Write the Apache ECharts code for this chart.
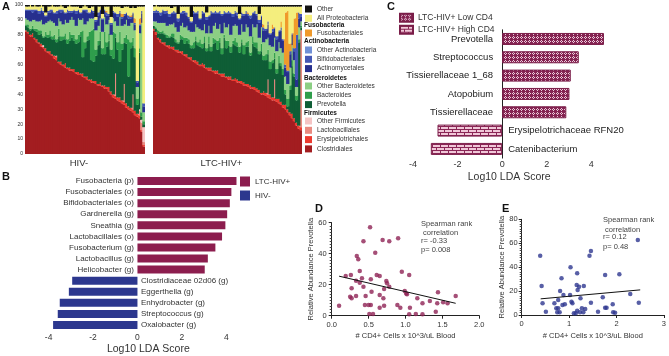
<!DOCTYPE html>
<html>
<head>
<meta charset="utf-8">
<script src="https://cdn.jsdelivr.net/npm/echarts@6/dist/echarts.min.js"></script>
<style>
  html, body { margin: 0; padding: 0; background: #fff; }
  #main { width: 669px; height: 356px; }
</style>
</head>
<body>
<div id="main"></div>
<script>
// ---- panel A : relative abundance per sample (stack order bottom -> top) ----
var taxa = ['Clostridiales', 'Erysipelotrichales', 'Lactobacillales', 'Other Firmicutes',
  'Prevotella', 'Bacteroides', 'Other Bacteroidetes', 'Actinomycetales', 'Bifidobacteriales',
  'Other Actinobacteria', 'Fusobacteriales', 'All Proteobacteria', 'Other'];
var taxaColors = ['#a31d20', '#ec3b30', '#e98a80', '#f5c4c4', '#0f5e36', '#2f9e4c', '#8ccf84',
  '#27308e', '#4558b5', '#7090d6', '#f09a2c', '#f4ee7e', '#111111'];

// HIV- samples
var hivClostridiales = [82,81,79,79,77,75,74,72,71,69, 68,67,66,64,63,61,60,59,58,57, 56,56,55,54,53,53,52,51,50,49, 48,48,47,46,46,45,44,44,42,40, 38,37,36,35,34,33,31,30,29,28, 26,25,24,15,5];
var hivErysipelotrichales = [1,1,1,2,1,2,1,2,1,2, 1,2,1,2,2,1,2,1,3,1, 2,1,2,1,2,1,2,1,2,1, 2,1,2,1,2,1,2,1,3,2, 2,2,2,3,2,2,3,2,2,2, 3,2,2,1,1];
var hivLactobacillales = [0,0,0,0,0,0,0,0,0,0, 0,0,0,0,1,0,0,0,0,0, 0,0,0,0,0,0,0,0,0,0, 0,0,0,0,0,0,0,0,0,0, 0,15,0,0,0,12,0,0,0,10, 0,0,3,5,2];
var hivOtherFirmicutes = [0,0,0,0,0,0,0,0,1,0, 0,0,0,0,0,0,0,0,0,0, 0,0,0,0,0,0,0,0,0,0, 0,0,0,0,0,0,0,0,0,0, 0,0,0,0,0,0,0,0,0,0, 0,0,1,2,10];
var hivPrevotella = [3,3,3,3,5,5,5,7,5,8, 9,10,10,11,9,17,14,17,16,16, 18,21,19,19,20,25,11,19,24,27, 13,13,17,26,28,21,21,27,31,24, 24,24,32,24,34,28,40,20,40,33, 36,6,38,2,2];
var hivBacteroides = [1,2,1,2,1,2,3,2,1,3, 2,4,2,3,2,5,3,2,4,3, 6,2,4,3,5,3,18,4,3,5, 20,22,4,3,6,4,15,3,5,4, 18,3,5,20,4,3,6,25,4,5, 6,4,3,3,2];
var hivOtherBacteroidetes = [4,3,5,4,6,5,6,7,8,6, 9,7,10,8,9,7,10,8,9,11, 8,12,10,9,11,8,8,12,10,9, 8,7,13,10,9,11,10,12,9,10, 9,8,11,10,12,9,10,9,13,10, 12,8,10,60,6];
var hivActinomycetales = [5,6,7,5,6,7,5,6,8,4, 6,5,7,6,8,5,6,9,4,7, 5,3,6,8,5,4,5,9,6,3, 5,4,6,7,5,8,4,6,3,7, 4,5,6,3,5,6,4,5,3,6, 4,3,5,6,4];
var hivBifidobacteriales = [1,1,1,2,1,1,2,1,1,1, 1,2,1,1,2,1,2,1,1,2, 1,1,1,2,1,1,1,1,2,1, 1,1,1,2,1,1,1,2,1,1, 1,1,2,1,1,1,1,2,1,1, 1,1,1,2,2];
var hivOtherActinobacteria = [0,0,0,0,0,0,0,1,0,0, 0,0,0,0,0,0,0,0,0,0, 0,0,0,0,0,0,0,0,0,0, 0,0,0,0,0,0,0,0,0,0, 0,0,0,0,0,0,0,0,0,0, 0,0,0,0,0];
var hivFusobacteriales = [0,0,0,0,0,0,0,0,0,0, 0,0,0,0,0,0,0,0,0,0, 0,0,0,0,0,0,0,0,0,0, 0,0,0,0,0,0,0,1,0,0, 0,0,0,0,2,0,0,0,1,0, 3,0,4,0,0];
var hivProteobacteria = [2,2,3,2,3,2,3,2,3,2, 3,2,3,4,3,2,3,2,3,2, 4,3,2,3,2,3,2,3,2,3, 2,3,2,4,2,3,2,3,5,4, 3,4,5,3,4,5,4,6,5,4, 7,50,8,3,65];
var hivOther = [1,1,0,1,0,1,1,0,1,5, 1,1,0,1,1,1,0,1,2,1, 0,1,1,1,1,2,1,0,1,2, 1,1,8,1,1,6,1,1,1,8, 1,1,1,1,2,1,1,1,2,1, 2,1,1,1,1];

// LTC-HIV+ samples
var ltcClostridiales = [83,80,77,75,74,73,72,71,71,70, 69,68,68,67,66,65,64,63,62,61, 60,59,59,58,57,56,56,55,54,54, 53,52,52,51,50,50,49,49,48,48, 47,46,46,45,44,44,43,42,41,40, 40,39,38,37,36,36,35,34,33,31, 30,28,26,24,22,19,17,16];
var ltcErysipelotrichales = [1,2,1,2,1,2,1,2,1,2, 1,2,1,2,1,2,1,2,1,2, 2,1,2,2,1,2,2,1,2,2, 1,2,2,1,2,2,1,2,2,1, 2,2,1,2,2,1,2,2,2,1, 2,2,2,3,2,2,2,3,2,2, 3,2,2,3,2,2,2,2];
var ltcLactobacillales = [0,0,0,0,0,0,0,0,0,0, 0,0,0,0,0,0,0,0,0,0, 0,0,0,0,0,0,0,0,0,0, 0,0,0,0,0,0,0,0,0,0, 0,0,0,0,0,0,0,0,0,0, 0,0,10,0,0,12,0,0,0,0, 0,0,0,0,0,0,0,65];
var ltcOtherFirmicutes = [0,0,0,0,0,0,0,0,0,0, 0,0,0,0,0,0,0,0,0,0, 0,0,0,0,0,0,0,0,0,0, 0,0,0,0,0,0,0,0,0,0, 0,0,0,0,0,0,0,0,0,0, 0,0,0,0,0,0,0,0,0,0, 0,0,0,0,0,0,0,0];
var ltcPrevotella = [2,2,3,4,6,5,5,5,7,6, 5,4,8,8,7,9,9,6,8,13, 11,12,10,15,11,16,11,18,19,14, 21,13,24,19,21,16,24,22,22,19, 26,19,25,25,20,29,27,27,24,28, 21,22,17,17,23,14,17,24,24,20, 7,2,15,32,28,15,56,2];
var ltcBacteroides = [0,1,2,1,2,1,2,1,2,3, 2,1,3,2,4,2,3,2,4,3, 2,5,3,4,2,5,3,4,2,6, 3,4,2,5,3,4,2,5,3,4, 2,6,3,4,2,5,3,4,2,5, 3,4,3,5,2,4,3,5,2,4, 3,5,3,4,2,3,2,1];
var ltcOtherBacteroidetes = [3,4,5,6,5,7,6,8,6,7, 8,7,6,9,7,8,6,9,7,8, 10,7,9,8,10,7,9,8,11,8, 9,10,8,9,11,8,10,9,11,8, 10,9,12,9,11,8,10,12,9,11, 9,10,8,11,9,10,12,9,10,11, 9,10,12,10,9,6,8,3];
var ltcActinomycetales = [6,6,7,5,8,6,9,5,7,6, 9,7,8,6,10,7,8,6,12,7, 9,6,11,7,9,6,13,8,6,10, 7,12,6,9,7,14,6,8,7,10, 6,11,7,8,12,7,9,6,10,7, 8,6,9,7,10,6,8,7,12,8, 6,8,9,7,6,5,6,3];
var ltcBifidobacteriales = [1,2,1,2,1,2,1,2,1,2, 1,2,1,2,1,2,1,1,2,1, 2,1,2,1,2,1,2,1,2,1, 2,1,2,1,2,1,2,1,2,1, 2,1,2,1,2,1,2,1,2,1, 2,1,2,1,2,1,2,1,2,1, 2,1,2,1,2,30,4,2];
var ltcOtherActinobacteria = [0,0,0,0,0,0,0,0,0,0, 0,0,0,0,0,0,0,0,0,0, 0,0,0,0,0,0,0,0,0,0, 0,0,0,0,0,0,0,0,0,0, 0,0,0,0,0,0,0,0,0,0, 0,0,0,0,0,0,0,0,0,0, 0,0,0,0,0,0,0,0];
var ltcFusobacteriales = [0,0,0,0,0,0,1,0,0,0, 0,0,0,0,0,0,0,0,0,0, 0,0,0,0,0,0,0,0,0,0, 0,0,0,0,0,0,0,0,0,0, 0,0,0,1,0,0,0,0,0,0, 2,0,0,0,3,0,0,0,4,0, 35,40,5,0,20,15,0,0];
var ltcProteobacteria = [3,3,3,4,2,3,2,5,3,3, 4,3,4,3,3,4,7,3,3,4, 3,8,3,4,3,6,3,4,3,4, 3,5,3,4,3,4,5,3,4,3, 4,5,3,4,6,4,3,5,4,6, 12,15,10,18,12,14,20,16,10,22, 4,3,25,18,8,4,4,5];
var ltcOther = [1,0,1,1,1,1,1,1,2,1, 1,6,1,1,1,1,1,8,1,1, 1,1,1,1,5,1,1,1,1,1, 1,1,1,1,1,1,1,1,1,6, 1,1,1,1,1,1,1,1,6,1, 1,1,1,1,1,1,1,1,1,1, 1,1,1,1,1,1,1,1];

var aTicks = [0, 100, 10];

// ---- panel B : LDA scores ----
var bCategories = ['Fusobacteria (p)', 'Fusobacteriales (o)', 'Bifidobacteriales (o)', 'Gardnerella (g)',
  'Sneathia (g)', 'Lactobacillales (o)', 'Fusobacterium (g)', 'Lactobacillus (g)', 'Helicobacter (g)',
  'Clostridiaceae 02d06 (g)', 'Eggerthella (g)', 'Enhydrobacter (g)', 'Streptococcus (g)', 'Oxalobacter (g)'];
var bLtc = [4.46, 4.23, 4.16, 4.04, 3.96, 3.81, 3.51, 3.17, 3.03, '-', '-', '-', '-', '-'];
var bHiv = ['-', '-', '-', '-', '-', '-', '-', '-', '-', -2.94, -3.09, -3.5, -3.59, -3.8];
var ldaTicks = [-4, -2, 0, 2, 4];

// ---- panel C : LDA scores by CD4 ----
var cCategories = ['Prevotella', 'Streptococcus', 'Tissierellaceae 1_68', 'Atopobium', 'Tissierellaceae',
  'Erysipelotrichaceae RFN20', 'Catenibacterium'];
var cLow = [4.57, 3.44, 3.08, 3.02, 2.88, '-', '-'];
var cHigh = ['-', '-', '-', '-', '-', -2.9, -3.2];

// ---- panel D : LTC-HIV+ CD4 vs Prevotella ----
var dX = [0.52,0.43,0.69,0.78,0.90,0.34,0.36,0.59,0.38,0.19, 0.26,0.41,0.33,0.38,0.53,0.61,0.65,0.74,0.75,0.78,
  0.71,0.65,0.70,0.95,1.05,0.99,1.01,1.02,1.16,1.23, 1.33,1.43,1.44,1.51,1.57,1.68,1.41,1.23,1.14,1.05,
  1.06,0.89,0.93,0.10,0.25,0.27,0.33,0.27,0.46,0.45, 0.50,0.53,0.51,0.56,0.65,0.71,0.54,0.43];
var dY = [57,48,48.8,48,50,38.5,36.4,40.6,28.8,25.6, 26.3,24.1,22.6,21.3,23.5,26.3,25.6,22.4,20.9,18.7,
  17.2,13.4,11.2,28.4,26.3,15.9,14.4,13.8,11.2,8, 9.5,8,15.1,8.6,8,12.7,2.6,0.9,1.1,0.9,
  5.2,6.9,5.2,6.5,12.3,11.2,12.7,17.7,12.7,6.9, 6.9,6.9,1.1,1.1,5.2,6.5,15.5,18.7];
var dFitX = [0.1, 1.68];
var dFitY = [25.5, 8.0];

// ---- panel E : HIV- CD4 vs Prevotella ----
var eX = [0.39,2.45,1.46,1.43,1.03,0.42,0.84,1.17,1.16,1.21, 1.31,1.18,1.76,2.06,0.81,0.88,1.02,2.29,2.47,0.44,
  0.69,0.77,0.86,1.05,1.07,1.24,1.46,1.71,1.76,1.79, 1.92,0.51,0.73,0.75,0.80,1.10,1.17,1.23,1.30,1.34,
  1.61,1.93,1.97,0.91,0.77,1.14,1.27];
var eY = [49.6,62.7,53.5,49.6,39.9,24.2,30.7,34.9,25.1,23.7, 24.2,20.9,33.4,34,20.1,16.7,16.7,17.6,10.3,9.8,
  9.8,12.5,8.4,11.1,9.8,14,10.3,14.8,6.1,6.1, 8.9,2.8,5.6,2.2,2.2,1.4,3.6,2.2,2.2,5,
  2.8,2.2,1.9,8.9,5.6,1.4,5.6];
var eFitX = [0.4, 2.5];
var eFitY = [13.5, 21.0];

var FONT = '"Liberation Sans", Arial, sans-serif';
var MAROON = '#8c1d4e';
var NAVY = '#2c378e';

var hivSeries = [hivClostridiales, hivErysipelotrichales, hivLactobacillales, hivOtherFirmicutes, hivPrevotella,
  hivBacteroides, hivOtherBacteroidetes, hivActinomycetales, hivBifidobacteriales, hivOtherActinobacteria,
  hivFusobacteriales, hivProteobacteria, hivOther];
var ltcSeries = [ltcClostridiales, ltcErysipelotrichales, ltcLactobacillales, ltcOtherFirmicutes, ltcPrevotella,
  ltcBacteroides, ltcOtherBacteroidetes, ltcActinomycetales, ltcBifidobacteriales, ltcOtherActinobacteria,
  ltcFusobacteriales, ltcProteobacteria, ltcOther];

// fill patterns for panel C
function dotPattern() {
  var c = document.createElement('canvas');
  c.width = 4; c.height = 4;
  var g = c.getContext('2d');
  g.fillStyle = '#852452'; g.fillRect(0, 0, 4, 4);
  g.fillStyle = '#eccbdb';
  g.fillRect(1, 0, 1, 1); g.fillRect(0, 1, 1, 1); g.fillRect(2, 1, 1, 1); g.fillRect(1, 2, 1, 1);
  return c;
}
function brickPattern() {
  var c = document.createElement('canvas');
  c.width = 8; c.height = 6;
  var g = c.getContext('2d');
  g.fillStyle = '#f0c8d8'; g.fillRect(0, 0, 8, 6);
  g.fillStyle = '#8a2656';
  g.fillRect(0, 0, 8, 1); g.fillRect(0, 3, 8, 1);
  g.fillRect(0, 0, 1, 3); g.fillRect(4, 3, 1, 3);
  return c;
}

var chart = echarts.init(document.getElementById('main'));

var series = [];
taxa.forEach(function (name, k) {
  // bars a little wider than their slot so neighbouring samples leave no white seams
  series.push({ type: 'bar', name: name, xAxisIndex: 0, yAxisIndex: 0, stack: 'hiv', barWidth: '150%',
    data: hivSeries[k], itemStyle: { color: taxaColors[k] }, silent: true });
  series.push({ type: 'bar', name: name, xAxisIndex: 1, yAxisIndex: 1, stack: 'ltc', barWidth: '150%',
    data: ltcSeries[k], itemStyle: { color: taxaColors[k] }, silent: true });
});

series.push({ type: 'bar', name: 'LTC-HIV+', xAxisIndex: 2, yAxisIndex: 2, data: bLtc, barWidth: 8, barGap: '-100%',
  itemStyle: { color: MAROON },
  label: { show: true, position: 'left', distance: 3.5, formatter: '{b}', fontSize: 8, color: '#333', fontFamily: FONT } });
series.push({ type: 'bar', name: 'HIV-', xAxisIndex: 2, yAxisIndex: 2, data: bHiv, barWidth: 8, barGap: '-100%',
  itemStyle: { color: NAVY },
  label: { show: true, position: 'right', distance: 3.5, formatter: '{b}', fontSize: 8, color: '#333', fontFamily: FONT } });

series.push({ type: 'bar', name: 'LTC-HIV+ Low CD4', xAxisIndex: 3, yAxisIndex: 3, data: cLow, barWidth: 12, barGap: '-100%',
  itemStyle: { color: { image: dotPattern(), repeat: 'repeat' }, borderColor: '#7a1d48', borderWidth: 1 },
  label: { show: true, position: 'left', distance: 9, formatter: '{b}', fontSize: 9.5, color: '#222', fontFamily: FONT } });
series.push({ type: 'bar', name: 'LTC-HIV+ High CD4', xAxisIndex: 3, yAxisIndex: 3, data: cHigh, barWidth: 12, barGap: '-100%',
  itemStyle: { color: { image: brickPattern(), repeat: 'repeat' }, borderColor: '#7a1d48', borderWidth: 1 },
  label: { show: true, position: 'right', distance: 6, formatter: '{b}', fontSize: 9.5, color: '#222', fontFamily: FONT } });

series.push({ type: 'scatter', xAxisIndex: 4, yAxisIndex: 4, symbolSize: 4.5,
  data: dX.map(function (x, i) { return [x, dY[i]]; }), itemStyle: { color: '#8e2355' } });
series.push({ type: 'line', xAxisIndex: 4, yAxisIndex: 4, symbol: 'none',
  data: dFitX.map(function (x, i) { return [x, dFitY[i]]; }), lineStyle: { color: '#111', width: 1 } });
series.push({ type: 'scatter', xAxisIndex: 5, yAxisIndex: 5, symbolSize: 4.5,
  data: eX.map(function (x, i) { return [x, eY[i]]; }), itemStyle: { color: '#2e3790' } });
series.push({ type: 'line', xAxisIndex: 5, yAxisIndex: 5, symbol: 'none',
  data: eFitX.map(function (x, i) { return [x, eFitY[i]]; }), lineStyle: { color: '#111', width: 1 } });

var axisBlack = { lineStyle: { color: '#222', width: 1 } };
var lbl = function (size) { return { fontSize: size, color: '#333', fontFamily: FONT }; };

function legendA(names, top) {
  return { data: names, left: 305, top: top, orient: 'vertical', itemWidth: 7, itemHeight: 7, itemGap: 2.3,
    icon: 'rect', selectedMode: false, padding: 0, itemStyle: { borderWidth: 0 },
    textStyle: { fontSize: 6.5, lineHeight: 7, color: '#333', fontFamily: FONT } };
}

var aHeaders = [['Fusobacteria', 25], ['Actinobacteria', 41.5], ['Bacteroidetes', 78.5], ['Firmicutes', 113]];
var letters = [['A', 2, 1], ['B', 2, 171], ['C', 387, 1], ['D', 315, 203], ['E', 502, 203]];
var dNote = [['Spearman rank', 224], [' correlation', 233], ['r= -0.33', 241], ['p= 0.008', 250]];
var eNote = [['Spearman rank', 220], [' correlation', 229.5], ['r= 0.12', 237], ['p= 0.48', 246.5]];

var graphics = [];
letters.forEach(function (l) {
  graphics.push({ type: 'text', x: l[1], y: l[2], style: { text: l[0], font: 'bold 11px ' + FONT, fill: '#111' } });
});
aHeaders.forEach(function (h) {
  graphics.push({ type: 'text', x: 304, y: h[1], style: { text: h[0], font: 'bold 6.5px ' + FONT, fill: '#111', textVerticalAlign: 'middle' } });
});
dNote.forEach(function (n) {
  graphics.push({ type: 'text', x: 421, y: n[1], style: { text: n[0], font: '7.5px ' + FONT, fill: '#444', textVerticalAlign: 'middle' } });
});
eNote.forEach(function (n) {
  graphics.push({ type: 'text', x: 603, y: n[1], style: { text: n[0], font: '7.5px ' + FONT, fill: '#444', textVerticalAlign: 'middle' } });
});

chart.setOption({
  animation: false,
  backgroundColor: '#fff',
  textStyle: { fontFamily: FONT },
  grid: [
    { left: 25, top: 5, width: 120, height: 149 },
    { left: 153, top: 5, width: 149, height: 149 },
    { left: 32, top: 175.5, width: 208.7, height: 155 },
    { left: 413, top: 29.8, width: 192.3, height: 128.3 },
    { left: 331.7, top: 222.7, width: 147.6, height: 93 },
    { left: 521.7, top: 219.3, width: 144.3, height: 95.7 }
  ],
  legend: [
    legendA(['Other', 'All Proteobacteria'], 5.5),
    legendA(['Fusobacteriales'], 29.5),
    legendA(['Other Actinobacteria', 'Bifidobacteriales', 'Actinomycetales'], 46.5),
    legendA(['Other Bacteroidetes', 'Bacteroides', 'Prevotella'], 82.5),
    legendA(['Other Firmicutes', 'Lactobacillales', 'Erysipelotrichales', 'Clostridiales'], 117.5),
    { data: ['LTC-HIV+', 'HIV-'], left: 240, top: 176.5, orient: 'vertical', itemWidth: 10, itemHeight: 10, itemGap: 4,
      icon: 'rect', selectedMode: false, padding: 0, textStyle: { fontSize: 8, color: '#333', fontFamily: FONT } },
    { data: ['LTC-HIV+ Low CD4', 'LTC-HIV+ High CD4'], left: 399, top: 12.7, orient: 'vertical', itemWidth: 13, itemHeight: 8,
      itemGap: 2, icon: 'rect', selectedMode: false, padding: 0, textStyle: { fontSize: 8.5, color: '#333', fontFamily: FONT } }
  ],
  xAxis: [
    { type: 'category', gridIndex: 0, data: hivClostridiales.map(function (v, i) { return String(i + 1); }),
      axisLine: { show: false }, axisTick: { show: false }, axisLabel: { show: false },
      name: 'HIV-', nameLocation: 'middle', nameGap: 4, nameTextStyle: { fontSize: 9.5, color: '#333', verticalAlign: 'top', padding: [0, 12, 0, 0] } },
    { type: 'category', gridIndex: 1, data: ltcClostridiales.map(function (v, i) { return String(i + 1); }),
      axisLine: { show: false }, axisTick: { show: false }, axisLabel: { show: false },
      name: 'LTC-HIV+', nameLocation: 'middle', nameGap: 4, nameTextStyle: { fontSize: 9.5, color: '#333', verticalAlign: 'top', padding: [0, 12, 0, 0] } },
    { type: 'value', gridIndex: 2, min: -4.75, max: 4.65, splitLine: { show: false }, axisLine: axisBlack,
      axisTick: { customValues: ldaTicks, length: 4, lineStyle: { color: '#222' } },
      axisLabel: Object.assign({ customValues: ldaTicks, margin: 3 }, lbl(8.5)),
      name: 'Log10 LDA Score', nameLocation: 'middle', nameGap: 12.5,
      nameTextStyle: { fontSize: 10.5, color: '#333', verticalAlign: 'top', padding: [0, 0, 0, 24] } },
    { type: 'value', gridIndex: 3, min: -4, max: 4.63, splitLine: { show: false }, axisLine: axisBlack,
      axisTick: { customValues: ldaTicks, length: 4, lineStyle: { color: '#222' } },
      axisLabel: Object.assign({ customValues: ldaTicks, margin: 2 }, lbl(9)),
      name: 'Log10 LDA Score', nameLocation: 'middle', nameGap: 14,
      nameTextStyle: { fontSize: 10.5, color: '#333', verticalAlign: 'top' } },
    { type: 'value', gridIndex: 4, min: 0, max: 2, interval: 0.5, splitLine: { show: false }, axisLine: axisBlack,
      axisTick: { length: 3, lineStyle: { color: '#222' } },
      axisLabel: Object.assign({ margin: 5, formatter: function (v) { return v.toFixed(1); } }, lbl(7.5)),
      name: '# CD4+ Cells x 10^3/uL Blood', nameLocation: 'middle', nameGap: 16,
      nameTextStyle: { fontSize: 7.5, color: '#333', verticalAlign: 'top' } },
    { type: 'value', gridIndex: 5, min: 0, max: 3, interval: 1, splitLine: { show: false }, axisLine: axisBlack,
      axisTick: { length: 3, lineStyle: { color: '#222' } },
      axisLabel: Object.assign({ margin: 5 }, lbl(7.5)),
      name: '# CD4+ Cells x 10^3/uL Blood', nameLocation: 'middle', nameGap: 16.5,
      nameTextStyle: { fontSize: 7.5, color: '#333', verticalAlign: 'top' } }
  ],
  yAxis: [
    { type: 'value', gridIndex: 0, min: aTicks[0], max: aTicks[1], interval: aTicks[2], splitLine: { show: false },
      axisLine: { show: false }, axisTick: { show: false }, axisLabel: Object.assign({ margin: 2 }, lbl(5)) },
    { type: 'value', gridIndex: 1, min: aTicks[0], max: aTicks[1], interval: aTicks[2], splitLine: { show: false },
      axisLine: { show: false }, axisTick: { show: false }, axisLabel: { show: false } },
    { type: 'category', gridIndex: 2, data: bCategories, inverse: true,
      axisLine: { show: false }, axisTick: { show: false }, axisLabel: { show: false } },
    { type: 'category', gridIndex: 3, data: cCategories, inverse: true,
      axisLine: { show: true, onZero: true, lineStyle: { color: '#222', width: 1 } }, axisTick: { show: false }, axisLabel: { show: false } },
    { type: 'value', gridIndex: 4, min: 0, max: 60, interval: 20, splitLine: { show: false }, axisLine: axisBlack,
      axisTick: { length: 3, lineStyle: { color: '#222' } }, minorTick: { show: true, splitNumber: 10, length: 2, lineStyle: { color: '#444' } },
      axisLabel: Object.assign({ margin: 5 }, lbl(7.5)),
      name: 'Relative Abundance Prevotella', nameLocation: 'middle', nameGap: 15,
      nameTextStyle: { fontSize: 7.5, color: '#333' } },
    { type: 'value', gridIndex: 5, min: 0, max: 80, interval: 20, splitLine: { show: false }, axisLine: axisBlack,
      axisTick: { length: 3, lineStyle: { color: '#222' } }, minorTick: { show: true, splitNumber: 10, length: 2, lineStyle: { color: '#444' } },
      axisLabel: Object.assign({ margin: 4 }, lbl(7.5)),
      name: 'Relative Abundance Prevotella', nameLocation: 'middle', nameGap: 10,
      nameTextStyle: { fontSize: 7.5, color: '#333' } }
  ],
  series: series,
  graphic: graphics
});
</script>
</body>
</html>
